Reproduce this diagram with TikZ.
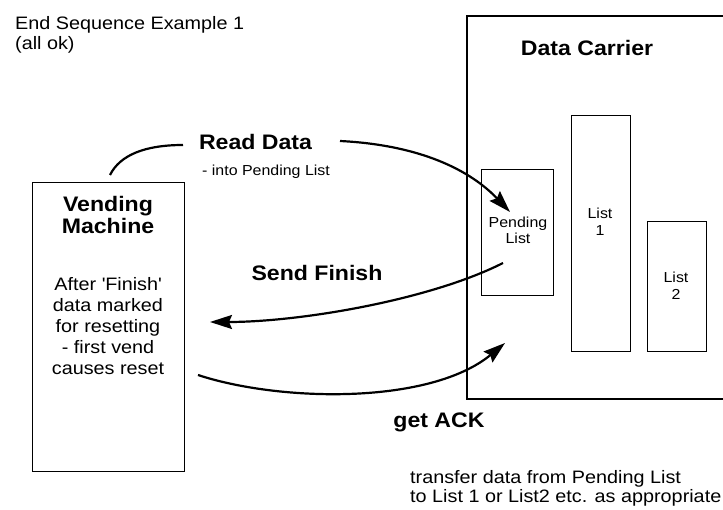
\documentclass[tikz,border=0pt]{standalone}
\usepackage{fontspec}
\setmainfont{Liberation Sans}[FakeStretch=1.1]
\usetikzlibrary{arrows.meta}
\begin{document}
\begin{tikzpicture}[x=1pt,y=-1pt,
  box/.style={draw, line width=1.3pt, inner sep=0pt},
  bodytxt/.style={font=\fontsize{18}{20.8}\selectfont, align=center, inner sep=0pt},
  smalltxt/.style={font=\fontsize{14.5}{16.5}\selectfont, align=center, inner sep=0pt},
  boldtxt/.style={font=\bfseries\fontsize{21}{22}\selectfont, align=center, inner sep=0pt},
  curveline/.style={line width=2.2pt},
  flow/.style={line width=2.2pt, -{Stealth[length=22pt,width=14pt,inset=3pt]}},
]
\useasboundingbox (0,0) rectangle (723,510);

% title
\node[bodytxt, align=left, anchor=west, font=\fontsize{18}{20}\selectfont] (title) at (15,35) {End Sequence Example 1\\(all ok)};

% data carrier (right side runs off the picture)
\draw[line width=1.3pt] (723,16) -- (467,16) -- (467,399) -- (723,399);
\node[boldtxt] (dc) at (587,48) {Data Carrier};

% boxes
\node[box, anchor=north west, minimum width=152pt, minimum height=289pt] (vm) at (32,182) {};
\node[box, anchor=north west, minimum width=72pt, minimum height=126pt] (pl) at (481,169) {};
\node[box, anchor=north west, minimum width=59pt, minimum height=236pt] (l1) at (571,115) {};
\node[box, anchor=north west, minimum width=59pt, minimum height=130pt] (l2) at (647,221) {};

% box texts
\node[boldtxt] (vmtitle) at (108,215) {Vending\\Machine};
\node[bodytxt] (vmbody) at (108,326) {After \textquotesingle Finish\textquotesingle\\data marked\\for resetting\\- first vend\\causes reset};
\node[smalltxt, font=\fontsize{14.5}{16}\selectfont] (pltxt) at (518,230) {Pending\\List};
\node[smalltxt, font=\fontsize{14.5}{17}\selectfont] (l1txt) at (600,222) {List\\1};
\node[smalltxt, font=\fontsize{14.5}{17}\selectfont] (l2txt) at (676,286) {List\\2};

% labels
\node[boldtxt] (rd) at (255.5,142) {Read Data};
\node[smalltxt, anchor=west] (rdsub) at (202,172) {- into Pending List};
\node[boldtxt] (sf) at (317,273) {Send Finish};
\node[boldtxt] (ack) at (439,422) {get ACK};
\node[bodytxt, align=left, anchor=west, font=\fontsize{18}{19}\selectfont] (note) at (410,488.5) {transfer data from Pending List\\to List 1 or List2 etc. as appropriate};

% connector end points
\coordinate (a1) at (110,175);
\coordinate (a2) at (183,145);
\coordinate (b1) at (340,141);
\coordinate (b2) at (510,212);
\coordinate (c1) at (503,263);
\coordinate (c2) at (210,322);
\coordinate (d1) at (198,375);
\coordinate (d2) at (505,343);

% connectors
\draw[curveline] (a1) .. controls (120,155) and (145,145) .. (a2);
\draw[flow] (b1) .. controls (420,145) and (470,170) .. (b2);
\draw[flow] (c1) .. controls (430,300) and (300,322) .. (c2);
\draw[flow] (d1) .. controls (280,402) and (430,405) .. (d2);
\end{tikzpicture}
\end{document}
